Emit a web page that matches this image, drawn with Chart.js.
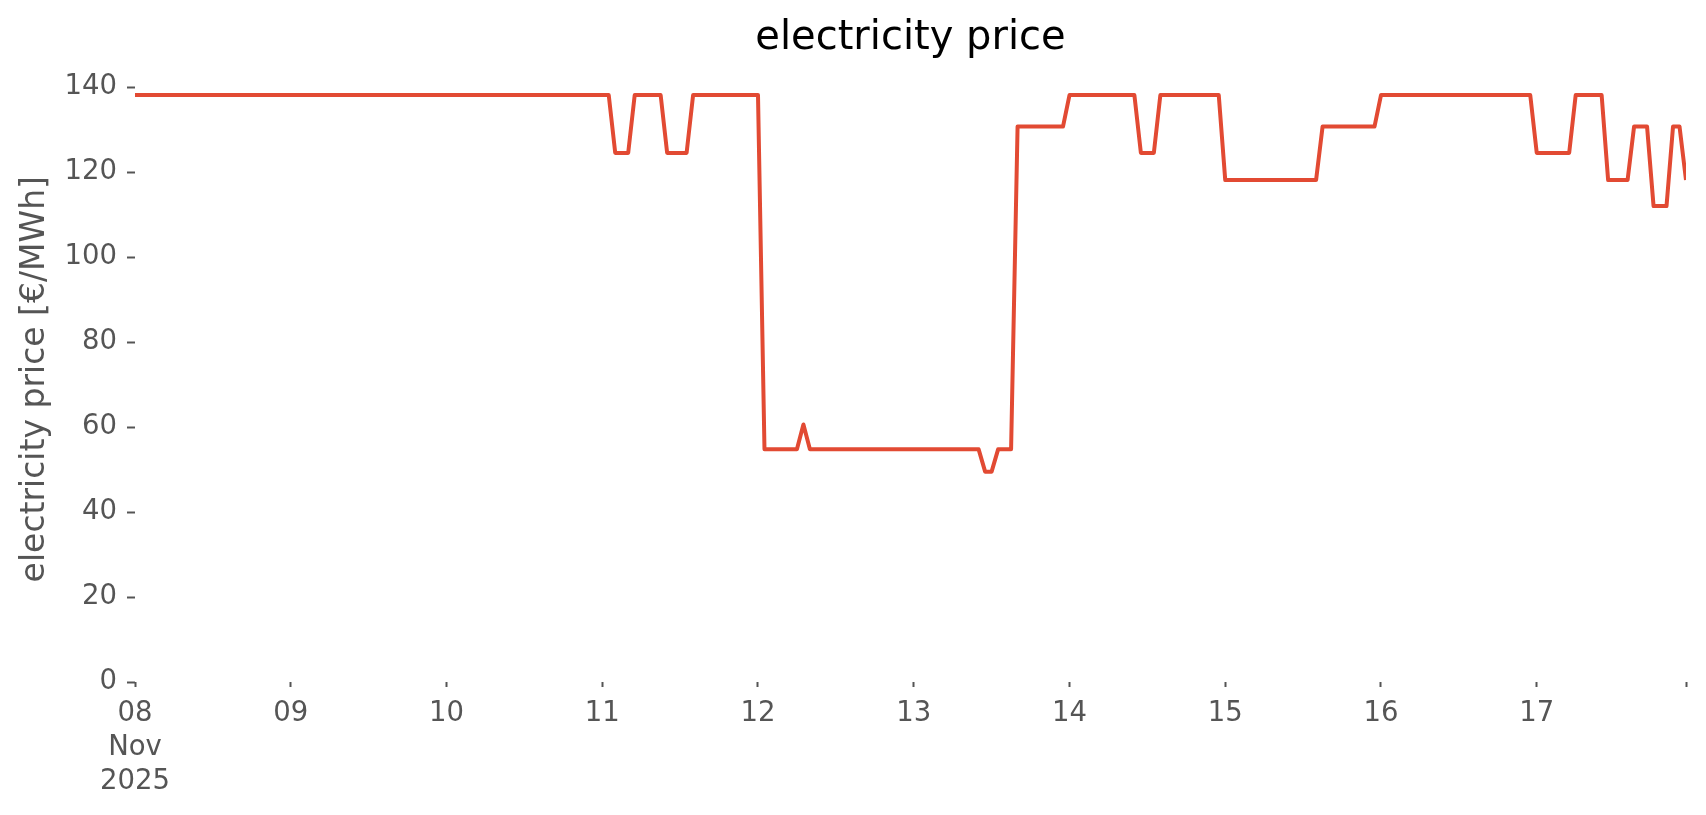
<!DOCTYPE html>
<html>
<head>
<meta charset="utf-8">
<script src="https://cdn.jsdelivr.net/npm/chart.js@4/dist/chart.umd.min.js"></script>
<style>
  html, body { margin: 0; padding: 0; background: #ffffff; }
  #wrap { width: 1706px; height: 815px; }
</style>
</head>
<body>
<div id="wrap"><canvas id="chart" width="1706" height="815"></canvas></div>
<script>
// hourly price, 08 Nov 2025 00:00 .. 17 Nov 2025 23:00, one line per day
const price = [
  138.1,138.1,138.1,138.1,138.1,138.1,138.1,138.1,138.1,138.1,138.1,138.1,138.1,138.1,138.1,138.1,138.1,138.1,138.1,138.1,138.1,138.1,138.1,138.1,
  138.1,138.1,138.1,138.1,138.1,138.1,138.1,138.1,138.1,138.1,138.1,138.1,138.1,138.1,138.1,138.1,138.1,138.1,138.1,138.1,138.1,138.1,138.1,138.1,
  138.1,138.1,138.1,138.1,138.1,138.1,138.1,138.1,138.1,138.1,138.1,138.1,138.1,138.1,138.1,138.1,138.1,138.1,138.1,138.1,138.1,138.1,138.1,138.1,
  138.1,138.1,124.5,124.5,124.5,138.1,138.1,138.1,138.1,138.1,124.5,124.5,124.5,124.5,138.1,138.1,138.1,138.1,138.1,138.1,138.1,138.1,138.1,138.1,
  138.1,54.75,54.75,54.75,54.75,54.75,54.75,60.6,54.75,54.75,54.75,54.75,54.75,54.75,54.75,54.75,54.75,54.75,54.75,54.75,54.75,54.75,54.75,54.75,
  54.75,54.75,54.75,54.75,54.75,54.75,54.75,54.75,54.75,54.75,54.75,49.5,49.5,54.75,54.75,54.75,130.7,130.7,130.7,130.7,130.7,130.7,130.7,130.7,
  138.1,138.1,138.1,138.1,138.1,138.1,138.1,138.1,138.1,138.1,138.1,124.5,124.5,124.5,138.1,138.1,138.1,138.1,138.1,138.1,138.1,138.1,138.1,138.1,
  118.1,118.1,118.1,118.1,118.1,118.1,118.1,118.1,118.1,118.1,118.1,118.1,118.1,118.1,118.1,130.7,130.7,130.7,130.7,130.7,130.7,130.7,130.7,130.7,
  138.1,138.1,138.1,138.1,138.1,138.1,138.1,138.1,138.1,138.1,138.1,138.1,138.1,138.1,138.1,138.1,138.1,138.1,138.1,138.1,138.1,138.1,138.1,138.1,
  124.5,124.5,124.5,124.5,124.5,124.5,138.1,138.1,138.1,138.1,138.1,118.1,118.1,118.1,118.1,130.7,130.7,130.7,112.0,112.0,112.0,130.7,130.7,118.1
];

const dayLabels = [['08', 'Nov', '2025'], '09', '10', '11', '12', '13', '14', '15', '16', '17'];
const yTicks = [0, 20, 40, 60, 80, 100, 120, 140];
const chartTitle = 'electricity price';

const tickFont = { family: 'DejaVu Sans', size: 27.5, lineHeight: '34px' };
const gray = '#555555';

// title centred over the plot area, like matplotlib does
const plotTitle = {
    id: 'plotTitle',
    afterDraw(chart) {
        const c = chart.ctx;
        const a = chart.chartArea;
        c.save();
        c.fillStyle = '#000000';
        c.font = '40px "DejaVu Sans"';
        c.textAlign = 'center';
        c.textBaseline = 'middle';
        c.fillText(chartTitle, (a.left + a.right) / 2, 39);
        c.restore();
    }
};

var ctx = document.getElementById('chart').getContext('2d');

var myChart = new Chart(ctx, {
    type: 'line',
    data: {
        datasets: [{
            label: chartTitle,
            data: price.map((v, i) => ({ x: i, y: v })),
            borderColor: '#E24A33',
            borderWidth: 4,
            borderJoinStyle: 'round',
            pointRadius: 0,
            tension: 0,
            fill: false
        }]
    },
    plugins: [plotTitle],
    options: {
        responsive: false,
        animation: false,
        devicePixelRatio: 1,
        layout: { padding: { left: 10, right: 20, top: 76.4, bottom: 0 } },
        plugins: {
            legend: { display: false },
            tooltip: { enabled: false },
            title: { display: false }
        },
        scales: {
            x: {
                type: 'linear',
                min: 0,
                max: price.length - 1,
                border: { display: false },
                grid: {
                    drawOnChartArea: false,
                    drawTicks: true,
                    tickLength: 5,
                    tickWidth: 2,
                    tickColor: gray
                },
                ticks: {
                    stepSize: 24,
                    autoSkip: false,
                    maxRotation: 0,
                    padding: 10,
                    color: gray,
                    font: tickFont,
                    callback: function (value) {
                        if (value % 24 === 0) return dayLabels[value / 24];
                        return '';
                    }
                },
                afterFit: function (scale) { scale.height = 133; }
            },
            y: {
                min: 0,
                max: 142.5,
                border: { display: false },
                grid: {
                    drawOnChartArea: false,
                    drawTicks: true,
                    tickLength: 8,
                    tickWidth: 2,
                    tickColor: gray
                },
                afterBuildTicks: function (scale) {
                    scale.ticks = yTicks.map(v => ({ value: v }));
                },
                ticks: {
                    padding: 10,
                    color: gray,
                    font: { family: 'DejaVu Sans', size: 27.5 }
                },
                title: {
                    display: true,
                    text: 'electricity price [€/MWh]',
                    color: gray,
                    font: { family: 'DejaVu Sans', size: 33 },
                    padding: { top: 6, bottom: 10 }
                },
                afterFit: function (scale) { scale.width = 125; }
            }
        }
    }
});
</script>
</body>
</html>
